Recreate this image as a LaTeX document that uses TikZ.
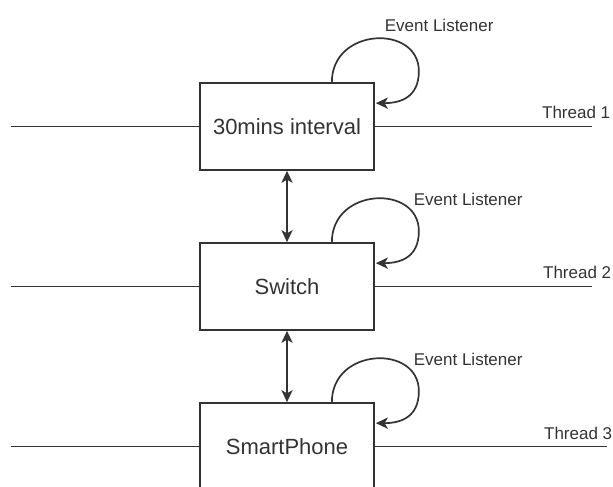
\documentclass[tikz,border=0pt]{standalone}
\usepackage{fontspec}
\setmainfont{Liberation Sans}
\usetikzlibrary{arrows.meta,calc}
\definecolor{ink}{HTML}{333333}
\begin{document}
\begin{tikzpicture}[x=0.5pt,y=-0.5pt,
  line width=0.85pt, draw=ink, text=ink,
  blockbox/.style={draw, minimum width=87pt, minimum height=43.5pt, inner sep=0pt, font=\fontsize{11}{13}\selectfont},
  smalltext/.style={inner sep=0pt, font=\fontsize{8.5}{10}\selectfont},
  tip/.style={-{Stealth[length=6pt,width=5.6pt,inset=1.6pt]}},
  bothtips/.style={{Stealth[length=6pt,width=5.6pt,inset=1.6pt]}-{Stealth[length=6pt,width=5.6pt,inset=1.6pt]}}]
  \clip (0,0) rectangle (613,486);

  % the three processes
  \node[blockbox] (b1) at (287,126.5) {30mins interval};
  \node[blockbox] (b2) at (287,286.5) {Switch};
  \node[blockbox] (b3) at (287,446.5) {SmartPhone};

  % thread lines running through each process
  \coordinate (l1) at (11,126.5); \coordinate (r1) at (592,126.5);
  \coordinate (l2) at (11,286.5); \coordinate (r2) at (592,286.5);
  \coordinate (l3) at (11,446.5); \coordinate (r3) at (607,446.5);
  \draw (l1) -- (b1.west); \draw (b1.east) -- (r1);
  \draw (l2) -- (b2.west); \draw (b2.east) -- (r2);
  \draw (l3) -- (b3.west); \draw (b3.east) -- (r3);

  \node[smalltext, anchor=east] (t1) at (611,112) {Thread 1};
  \node[smalltext, anchor=east] (t2) at (612,272) {Thread 2};
  \node[smalltext, anchor=east] (t3) at (613,433) {Thread 3};

  % links between processes
  \draw[bothtips] (b1.south) -- (b2.north);
  \draw[bothtips] (b2.south) -- (b3.north);

  % event listener loops
  \foreach \b in {b1,b2,b3}{
    \draw[tip] ($(\b.north east)+(-43,0)$)
      .. controls ($(\b.north east)+(-43,-55)$) and ($(\b.north east)+(44,-58)$)
      .. ($(\b.north east)+(44,-11)$)
      .. controls ($(\b.north east)+(44,15)$) and ($(\b.north east)+(26,21)$)
      .. ($(\b.north east)+(1,21)$);
  }

  \node[smalltext, anchor=west] (e1) at (384,25)  {Event Listener};
  \node[smalltext, anchor=west] (e2) at (413,199) {Event Listener};
  \node[smalltext, anchor=west] (e3) at (413,359) {Event Listener};
\end{tikzpicture}
\end{document}
